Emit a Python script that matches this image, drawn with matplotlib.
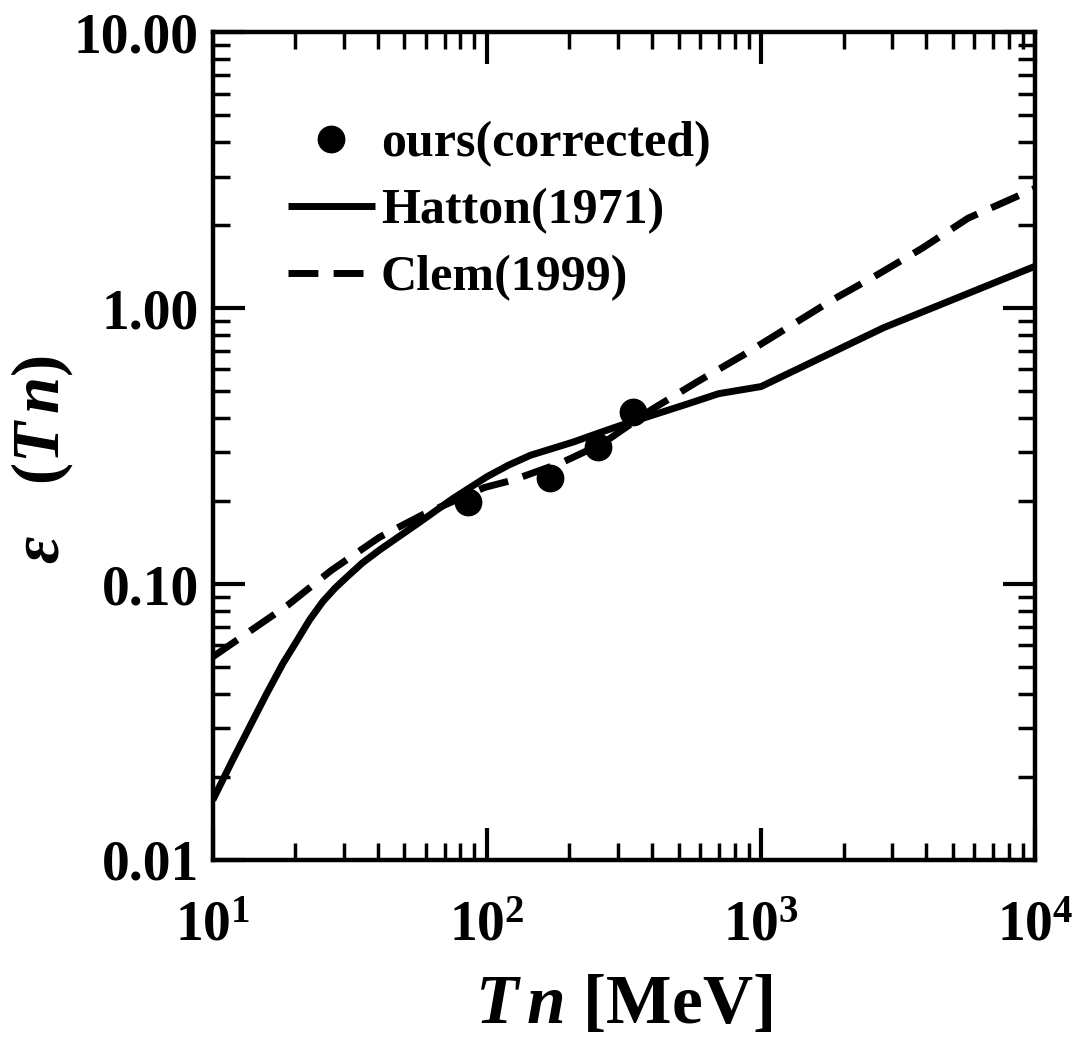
import matplotlib
matplotlib.use("Agg")
import matplotlib.pyplot as plt
from matplotlib.ticker import FixedLocator, FixedFormatter, LogLocator, NullFormatter

plt.rcParams['font.family'] = ['Liberation Serif', 'DejaVu Serif']
plt.rcParams['font.weight'] = 'bold'
plt.rcParams['mathtext.fontset'] = 'custom'
plt.rcParams['mathtext.rm'] = 'Liberation Serif:bold'
plt.rcParams['mathtext.bf'] = 'Liberation Serif:bold'
plt.rcParams['mathtext.it'] = 'Liberation Serif:italic:bold'

# Data
ours_x = [85, 170, 254, 341]
ours_y = [0.198, 0.242, 0.313, 0.420]

hatton_x = [10, 11.8, 13.6, 15.7, 18, 20, 22.5, 25.2, 28, 30.8, 35, 40.6, 57, 75, 100,
            120, 144, 206, 260, 305, 540, 700, 1000, 2800, 10000]
hatton_y = [0.0165, 0.023, 0.0303, 0.040, 0.0515, 0.061, 0.074, 0.0865, 0.097, 0.106, 0.119, 0.133, 0.168, 0.204, 0.245,
            0.27, 0.293, 0.327, 0.355, 0.375, 0.45, 0.49, 0.52, 0.85, 1.42]

clem_x = [10, 15, 18.8, 27, 40.6, 58, 98, 124, 188, 265, 400, 583, 860, 1244, 1815, 2648, 3870, 5690, 10000]
clem_y = [0.0545, 0.072, 0.084, 0.112, 0.148, 0.178, 0.224, 0.238, 0.276, 0.324, 0.43, 0.54, 0.676, 0.848, 1.07, 1.32, 1.65, 2.12, 2.72]

xticks = [10, 100, 1000, 10000]
xticklabels = [r'$\mathbf{10^{1}}$', r'$\mathbf{10^{2}}$', r'$\mathbf{10^{3}}$', r'$\mathbf{10^{4}}$']
yticks = [0.01, 0.1, 1, 10]
yticklabels = ['0.01', '0.10', '1.00', '10.00']

fig = plt.figure(figsize=(10.75, 10.43), dpi=100)
ax = fig.add_axes([0.198, 0.1755, 0.765, 0.7935])

lw = 5
ax.plot(hatton_x, hatton_y, '-', color='black', lw=lw, solid_capstyle='butt',
        solid_joinstyle='round', label='Hatton(1971)')
ax.plot(clem_x, clem_y, color='black', lw=lw, dashes=(4.3, 2.2), dash_capstyle='butt',
        label='Clem(1999)')
ax.plot(ours_x, ours_y, 'o', color='black', ms=19, label='ours(corrected)', zorder=5)

ax.set_xscale('log')
ax.set_yscale('log')
ax.set_xlim(10, 10000)
ax.set_ylim(0.01, 10)

ax.xaxis.set_major_locator(FixedLocator(xticks))
ax.xaxis.set_major_formatter(FixedFormatter(xticklabels))
ax.yaxis.set_major_locator(FixedLocator(yticks))
ax.yaxis.set_major_formatter(FixedFormatter(yticklabels))
ax.xaxis.set_minor_locator(LogLocator(base=10, subs=range(2, 10)))
ax.yaxis.set_minor_locator(LogLocator(base=10, subs=range(2, 10)))
ax.xaxis.set_minor_formatter(NullFormatter())
ax.yaxis.set_minor_formatter(NullFormatter())

for s in ax.spines.values():
    s.set_linewidth(3.2)
ax.tick_params(which='both', direction='in', top=True, right=True)
ax.tick_params(which='major', length=23, width=3, labelsize=40)
ax.tick_params(which='minor', length=12, width=2.5)
ax.tick_params(axis='x', which='major', pad=29)
ax.tick_params(axis='y', which='major', pad=10)
for lab in ax.get_yticklabels():
    lab.set_fontweight('bold')

ax.set_xlabel(r'$T\,n$ [MeV]', fontsize=50, fontweight='bold', labelpad=16)
ax.set_ylabel(r'$\varepsilon\ \ \ \mathbf{(}T\,n\mathbf{)}$', fontsize=48)
ax.yaxis.set_label_coords(-0.168, 0.484)

handles, labels = ax.get_legend_handles_labels()
order = [2, 0, 1]
leg = ax.legend([handles[i] for i in order], [labels[i] for i in order],
                loc='upper left', bbox_to_anchor=(0.091, 0.893), frameon=False,
                prop={'family': 'Liberation Serif', 'weight': 'bold', 'size': 36},
                handlelength=1.74, handletextpad=0.12, labelspacing=0.42,
                borderpad=0, borderaxespad=0, markerscale=1.0)

fig.savefig('out.png', dpi=100)
